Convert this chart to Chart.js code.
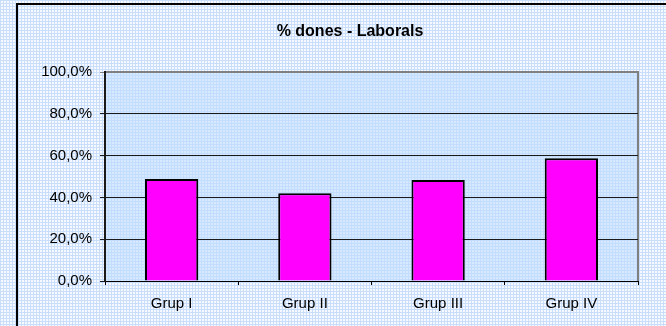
<!DOCTYPE html>
<html>
<head>
<meta charset="utf-8">
<script src="https://cdn.jsdelivr.net/npm/chart.js@4/dist/chart.umd.min.js"></script>
<style>
  html, body { margin: 0; padding: 0; background: #fff; }
  #wrap { width: 666px; height: 326px; }
</style>
</head>
<body>
<div id="wrap"><canvas id="c" width="666" height="326"></canvas></div>
<script>
// Share of women per group (Laborals)
const categories = ['Grup I', 'Grup II', 'Grup III', 'Grup IV'];
const percentDones = [48.8, 42.0, 48.3, 58.7];
const titleText = '% dones - Laborals';

const FONT = 'Liberation Sans, Arial, sans-serif';

// Small tiled fills imitating the dotted chart/plot backgrounds
function makePattern(lineColor, cellColor) {
  const t = document.createElement('canvas');
  t.width = 3; t.height = 3;
  const g = t.getContext('2d');
  g.fillStyle = cellColor; g.fillRect(0, 0, 3, 3);
  g.fillStyle = lineColor;
  g.fillRect(0, 0, 3, 1);
  g.fillRect(0, 0, 1, 3);
  return g.createPattern(t, 'repeat');
}

const backdrop = {
  id: 'backdrop',
  beforeDraw(chart) {
    const ctx = chart.ctx;
    const a = chart.chartArea;
    ctx.save();
    ctx.fillStyle = makePattern('#c8defa', '#f6f9ff');
    ctx.fillRect(0, 0, chart.width, chart.height);
    // outer frame
    ctx.strokeStyle = '#000';
    ctx.lineWidth = 2;
    ctx.strokeRect(17, 4, 800, 500);
    // plot area
    ctx.fillStyle = makePattern('#c2ddfd', '#d6e9ff');
    ctx.fillRect(a.left, a.top, a.right - a.left, a.bottom - a.top);
    ctx.strokeStyle = '#808080';
    ctx.lineWidth = 2;
    ctx.beginPath();
    ctx.moveTo(a.left, a.top);
    ctx.lineTo(a.right, a.top);
    ctx.lineTo(a.right, a.bottom);
    ctx.stroke();
    ctx.restore();
  },
  afterDraw(chart) {
    // chart title, centred over the framed chart
    const ctx = chart.ctx;
    ctx.save();
    ctx.fillStyle = '#000';
    ctx.font = 'bold 16px ' + FONT;
    ctx.textAlign = 'center';
    ctx.textBaseline = 'middle';
    ctx.fillText(titleText, 350, 32);
    ctx.restore();
  }
};

new Chart(document.getElementById('c'), {
  type: 'bar',
  data: {
    labels: categories,
    datasets: [{
      data: percentDones,
      backgroundColor: '#ff00ff',
      borderColor: '#000',
      borderWidth: 2,
      barPercentage: 0.4,
      categoryPercentage: 1.0
    }]
  },
  plugins: [backdrop],
  options: {
    responsive: false,
    animation: false,
    layout: { padding: { left: 20, right: 28, top: 72, bottom: 0 } },
    plugins: {
      legend: { display: false },
      tooltip: { enabled: false },
      title: { display: false }
    },
    scales: {
      x: {
        afterFit(s) { s.height = 45; },
        grid: {
          offset: true,
          drawOnChartArea: false,
          drawTicks: true,
          tickLength: 4,
          color: '#000'
        },
        border: { color: '#000', width: 1 },
        ticks: {
          color: '#000',
          padding: 10,
          font: { family: FONT, size: 15 }
        }
      },
      y: {
        min: 0,
        max: 100,
        afterFit(s) { s.width = 85; },
        grid: {
          color: (c) => (c.tick && c.tick.value === 100 ? '#808080' : '#1a1a1a'),
          lineWidth: 1,
          drawTicks: true,
          tickLength: 5
        },
        border: { color: '#1a1a1a', width: 2 },
        ticks: {
          stepSize: 20,
          color: '#000',
          padding: 8,
          font: { family: FONT, size: 15 },
          callback: (v) => v.toFixed(1).replace('.', ',') + '%'
        }
      }
    }
  }
});
</script>
</body>
</html>
